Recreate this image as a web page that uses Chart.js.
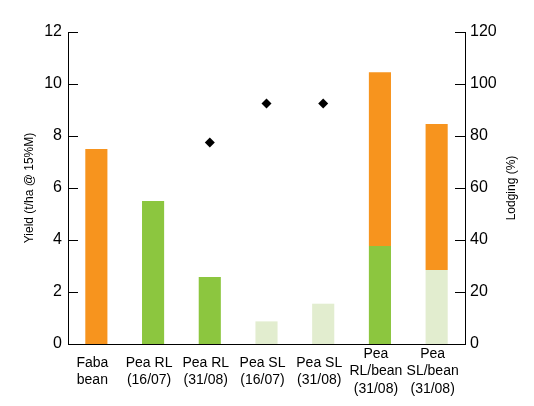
<!DOCTYPE html>
<html>
<head>
<meta charset="utf-8">
<script src="https://cdn.jsdelivr.net/npm/chart.js@4"></script>
<style>
	body { margin: 0; background: #ffffff; }
	#box { width: 534px; height: 406px; }
</style>
</head>
<body>
<div id="box"><canvas id="yield"></canvas></div>
<script>
var categories = [
	['Faba', 'bean'],
	['Pea RL', '(16/07)'],
	['Pea RL', '(31/08)'],
	['Pea SL', '(16/07)'],
	['Pea SL', '(31/08)'],
	['Pea', 'RL/bean', '(31/08)'],
	['Pea', 'SL/bean', '(31/08)']
]
var peaType = ['', 'RL', 'RL', 'SL', 'SL', 'RL', 'SL']
var peaYield = [0, 5.5, 2.58, 0.87, 1.55, 3.77, 2.85]
var beanYield = [7.5, 0, 0, 0, 0, 6.68, 5.61]
var lodging = [null, null, 77.5, 92.5, 92.5, null, null]
var yieldTicks = [0, 2, 4, 6, 8, 10, 12]
var lodgingTicks = [0, 20, 40, 60, 80, 100, 120]

var orange = '#f7941e'
var green = '#8cc63f'
var paleGreen = '#e2edcf'

var peaColors = []
for(i = 0; i < peaType.length; i++)
	peaColors[i] = peaType[i] == 'SL' ? paleGreen : green

// ticks point inward in the original, so draw them by hand
var innerTicks = {
	id: 'innerTicks',
	afterDraw: function(chart)
	{
		var ctx = chart.ctx
		var area = chart.chartArea
		ctx.save()
		ctx.strokeStyle = '#000'
		ctx.lineWidth = 1
		for(i = 0; i < yieldTicks.length; i++)
		{
			var py = Math.round(chart.scales.y.getPixelForValue(yieldTicks[i])) + 0.5
			ctx.beginPath()
			ctx.moveTo(area.left, py)
			ctx.lineTo(area.left + 10, py)
			ctx.stroke()
		}
		for(i = 0; i < lodgingTicks.length; i++)
		{
			var py = Math.round(chart.scales.y2.getPixelForValue(lodgingTicks[i])) + 0.5
			ctx.beginPath()
			ctx.moveTo(area.right, py)
			ctx.lineTo(area.right - 10, py)
			ctx.stroke()
		}
		// right title reads bottom to top like the left one
		ctx.translate(512, (area.top + area.bottom) / 2)
		ctx.rotate(-Math.PI / 2)
		ctx.font = '12px "Liberation Sans Narrow", "Liberation Sans", Arial'
		ctx.fillStyle = '#000'
		ctx.textAlign = 'center'
		ctx.textBaseline = 'middle'
		ctx.fillText('Lodging (%)', 0, 0)
		ctx.restore()
	}
}

window.onload = function()
{
	var ctx0 = document.getElementById('yield')
	var myChart = new Chart(ctx0, {
    data: {
        labels: categories,
        datasets: [
            {
                type: 'line',
                data: lodging,
                yAxisID: 'y2',
                showLine: false,
                pointStyle: 'rectRot',
                pointRadius: 5,
                pointBackgroundColor: '#000',
                pointBorderColor: '#000',
                pointBorderWidth: 0,
                order: 0
            },
            {
                type: 'bar',
                data: peaYield,
                yAxisID: 'y',
                backgroundColor: peaColors,
                borderWidth: 0,
                order: 1
            },
            {
                type: 'bar',
                data: beanYield,
                yAxisID: 'y',
                backgroundColor: orange,
                borderWidth: 0,
                order: 1
            }
        ]
    },
    options: {
        responsive: true,
        maintainAspectRatio: false,
        animation: false,
        layout:
        {
            padding: { top: 32, left: 0, right: 0, bottom: 0 }
        },
        datasets:
        {
            bar: { barPercentage: 0.39, categoryPercentage: 1 }
        },
    	plugins:
    	{
    		legend: { display: false },
    		tooltip: { enabled: false }
    	},
        scales: {
            x:
            {
                stacked: true,
                grid: { display: false, drawTicks: false },
                border: { display: true, color: '#000', width: 1 },
                ticks:
                {
                    color: '#000',
                    font: { family: '"Liberation Sans Narrow", "Liberation Sans", Arial', size: 14, lineHeight: 1.25 },
                    maxRotation: 0,
                    autoSkip: false,
                    labelOffset: -4,
                    padding: 10,
                    crossAlign: 'center'
                },
                afterFit: function(scale) { scale.height = 62 }
            },
            y:
            {
                position: 'left',
                stacked: true,
                min: 0,
                max: 12,
                grid: { display: false, drawTicks: false },
                border: { display: true, color: '#000', width: 1 },
                ticks:
                {
                    stepSize: 2,
                    color: '#000',
                    padding: 6,
                    font: { family: '"Liberation Sans", Arial', size: 16 }
                },
                title:
                {
                    display: true,
                    text: 'Yield (t/ha @ 15%M)',
                    color: '#000',
                    font: { family: '"Liberation Sans Narrow", "Liberation Sans", Arial', size: 12 },
                    padding: { top: 22, bottom: 0 }
                },
                afterFit: function(scale) { scale.width = 68 }
            },
            y2:
            {
                position: 'right',
                min: 0,
                max: 120,
                grid: { display: false, drawTicks: false },
                border: { display: true, color: '#000', width: 1 },
                ticks:
                {
                    stepSize: 20,
                    color: '#000',
                    padding: 5,
                    font: { family: '"Liberation Sans", Arial', size: 16 }
                },
                afterFit: function(scale) { scale.width = 69 }
            }
        }
    },
    plugins: [innerTicks]
})
}
</script>
</body>
</html>
